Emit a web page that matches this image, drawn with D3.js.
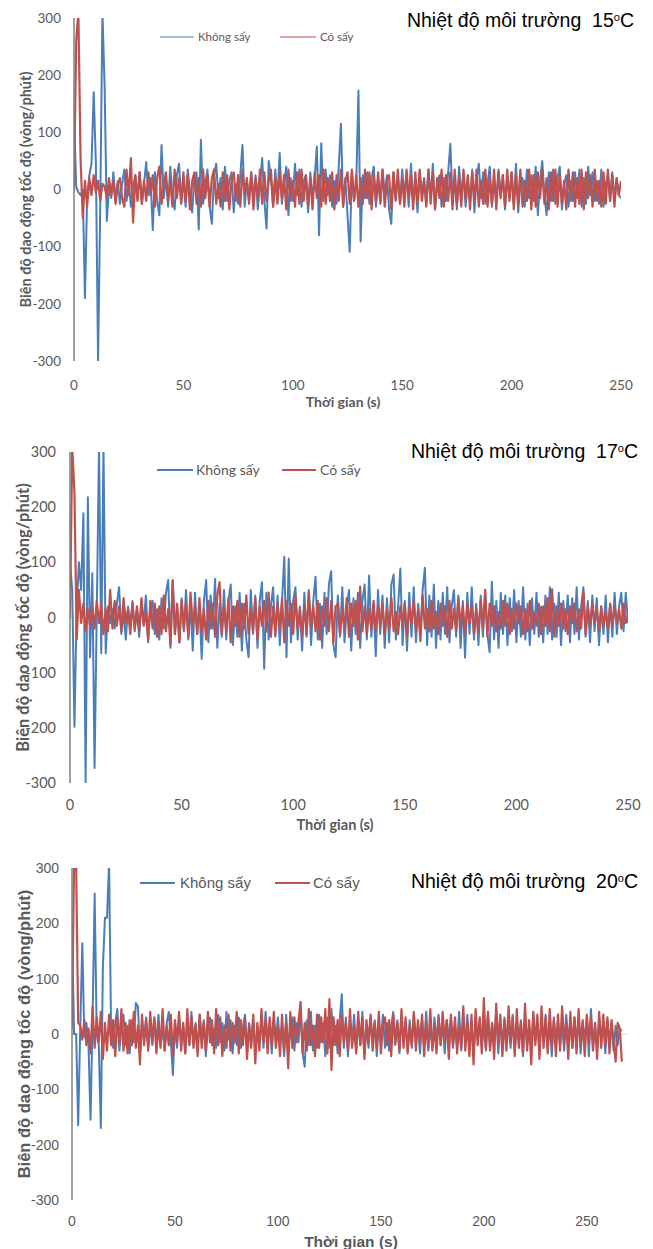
<!DOCTYPE html>
<html>
<head>
<meta charset="utf-8">
<script src="https://cdn.jsdelivr.net/npm/d3@7"></script>
<style>
  body { margin: 0; background: #fff; }
  svg text { fill: #595959; }
</style>
</head>
<body>
<div id="chart"></div>
<script>
/* DATA (one value per second) */
const titles = ["15", "17", "20"];
const seriesNames = ["Không sấy", "Có sấy"];
const yTicks = [-300, -200, -100, 0, 100, 200, 300];
const xTicks = [0, 50, 100, 150, 200, 250];

// 15 oC
const khong15 = [
  130, 5, -5, -10, 0, -190, -15, 25, 45, 170,
  45, -300, -25, 310, 180, -55, 5, -15, 30, -20,
  15, -25, 10, 35, -20, 15, -30, 5, 25, -15,
  30, -25, 10, 48, -10, 20, -71, 30, -20, -45,
  78, -15, 20, -30, 40, -10, -35, 25, 45, -20,
  15, -30, 35, -5, -40, 20, 30, -70, 87, -25,
  10, 35, -30, -60, 25, 45, -15, 20, -35, 40,
  -20, 15, 30, -40, 10, -25, 25, 78, -30, 15,
  -20, 30, -15, 25, -35, 10, 55, -20, -68, 50,
  20, -30, 35, -15, 64, -25, 10, 40, -45, 20,
  -20, 45, -10, 35, -30, 15, 25, -40, 30, -15,
  20, 75, -80, 81, -20, 35, -10, 25, -30, 15,
  -25, 40, 115, -30, 20, -45, -109, 30, -20, 10,
  173, -91, 25, -15, 30, -25, 20, 40, -30, 15,
  -20, 35, -10, 25, -35, -60, 30, -15, 20, -25,
  35, -10, 25, -30, 45, -20, 15, -40, 30, -10,
  20, -25, 35, -15, 45, -35, 10, 25, -30, 20,
  -20, 30, 80, -15, 10, -35, 40, -10, 25, -30,
  15, -20, 35, -40, 20, 45, -15, 30, -25, 10,
  40, -30, 15, -20, 35, -10, 25, -35, 20, -15,
  30, -25, 45, -40, 10, 20, -30, 35, -15, 25,
  -20, 40, -45, 15, 50, -10, -45, 30, -20, 35,
  -25, 20, 40, -35, 10, 25, -30, 15, -20, 30,
  -15, 35, -30, 20, -25, 40, -10, 30, -20, 15,
  -25, 35, -30, 10, 25, -20, 30, -15, 20, -10,
  -15
];
const co15 = [
  0, 260, 310, 55, -50, 15, -30, 20, -10, 25,
  -5, 15, -20, 10, 5, -15, 20, -10, 15, -25,
  10, 20, -15, -30, 35, -10, 55, -58, 25, -20,
  30, -25, 15, -20, 30, -10, 25, -30, 20, 40,
  -25, 10, 30, -20, 15, -30, 35, -15, 20, -25,
  30, -20, 25, -35, 15, 30, -25, 20, -30, 35,
  -15, 25, -30, 20, 35, -25, 10, -30, 30, -20,
  25, -35, 15, 30, -20, 25, -30, 35, -10, 20,
  -25, 30, -35, 20, -15, 35, -25, 30, -20, 15,
  35, -30, 20, -25, 30, -15, 25, -35, 35, -20,
  15, -30, 30, -25, 35, -20, 25, -30, 20, -35,
  30, -15, 25, -30, 35, -25, 20, -20, 30, -35,
  25, -20, 35, -30, 15, 30, -25, 35, -20, 25,
  -30, 20, -25, 35, -15, 30, -35, 25, -20, 30,
  -25, 35, -30, 15, 25, -35, 30, -20, 35, -25,
  20, -30, 35, -15, 25, -35, 30, -25, 35, -20,
  15, -30, 35, -25, 30, -35, 20, -15, 35, -30,
  25, -20, 30, -35, 35, -25, 20, -30, 35, -15,
  25, -35, 30, -20, 35, -30, 15, -25, 35, -30,
  20, -25, 35, -35, 30, -15, 25, -30, 35, -20,
  30, -35, 25, -25, 35, -30, 15, -20, 35, -35,
  25, -30, 30, -15, 35, -25, 20, -35, 30, -20,
  35, -30, 25, -25, 15, -35, 35, -20, 30, -30,
  20, -25, 35, -35, 30, -15, 25, -30, 35, -20,
  15, -30, 30, -25, 35, -20, 25, -30, 20, -10,
  15
];

// 17 oC
const khong17 = [
  100, 50, -198, 20, 100, 50, 189, -300, 218, -72,
  80, -273, 10, 310, -65, 310, -65, 20, -10, 15,
  -20, 25, 55, -30, 10, -40, 20, -15, 30, -25,
  15, -35, 25, -10, 40, -45, 20, 30, -30, 15,
  -40, 35, -20, 45, 68, -55, 66, -30, 20, -45,
  35, -25, 50, -40, 25, -60, 45, -30, 20, -75,
  30, 68, -45, 40, -20, 70, -55, 25, -35, 50,
  -40, 30, 60, -50, 20, -35, 45, -60, 25, -40,
  -72, 50, -30, 40, -55, 30, 64, -93, 45, -40,
  20, 55, -35, 40, -50, 30, 110, -72, 107, -45,
  30, 55, -40, 20, -60, 45, -35, 50, -50, 30,
  74, -40, 25, -55, 45, -30, 60, 84, -50, -72,
  40, -35, 55, -45, 20, 50, -60, 35, -30, 45,
  -55, 30, 60, -40, 76, -35, 25, -70, 50, -30,
  40, -55, 35, -45, 60, 78, -40, 20, 89, -50,
  30, -60, 45, -35, 55, -45, 25, -30, 50, 90,
  -50, 40, -35, 60, -55, 30, -40, 45, -30, 55,
  -45, 20, 50, -35, 40, -55, 30, -73, 45, -30,
  55, -40, 25, -50, 40, -35, 45, -30, -63, 65,
  -40, 30, -55, 45, -30, 40, -50, 35, -25, 50,
  -45, 30, -35, 55, -40, 25, -50, 35, -30, 45,
  -35, 20, -45, 40, -30, 55, -40, 25, -35, 45,
  -50, 30, -25, 40, -45, 35, -30, 55, -40, 20,
  55, -35, 30, -45, 40, -25, 35, -50, 20, -30,
  40, -45, 25, -35, 45, -30, 20, 45, -25, 45,
  -10
];
const co17 = [
  0, 310, 225, -40, 50, -10, 25, -25, 15, -15,
  20, -20, 30, -10, 25, -30, 15, -25, 50, -20,
  30, -15, 20, -25, 35, -10, 15, -30, 25, -20,
  20, -25, 35, -15, 10, -40, 30, -20, 25, -35,
  20, -30, 40, -25, 15, -50, 68, -30, 25, -45,
  30, -20, 25, -35, 45, -15, 20, -30, 35, -25,
  15, -40, 30, -20, 25, -35, 40, 64, -30, 20,
  -25, 35, -45, 20, -15, 30, -35, 25, -20, 40,
  -30, 15, -25, 35, -40, 20, -15, 30, -25, 45,
  -35, 20, -30, 25, -20, 35, -45, 30, -15, 25,
  -30, 40, -20, 15, -35, 25, -30, 45, -15, 20,
  -25, 30, -40, 20, -15, 35, -25, 30, -45, 20,
  25, -30, 15, -20, 35, -35, 25, -15, 30, -40,
  56, -25, 20, -30, 15, -20, 30, -25, 20, -15,
  25, -30, 15, -20, 35, -25, 10, -30, 20, -15,
  25, -35, 20, -10, 30, -25, 15, -43, 40, -20,
  15, -25, 30, -20, 10, -30, 25, -15, 20, -35,
  30, -20, 15, -25, 35, -15, 20, -30, 25, -10,
  20, -30, 15, -25, 30, -20, 50, -35, 25, -15,
  20, -25, 10, -20, 30, -15, 25, -30, 15, -20,
  25, -10, 20, -30, 15, -25, 30, -20, 10, -15,
  25, -30, 20, -15, 35, -25, 51, -35, 20, -15,
  25, -20, 15, -30, 20, -10, 25, -25, 15, -20,
  47, -30, 20, -15, 25, -10, 15, -25, 20, -15,
  10, -20, 25, -15, 20, -10, 15, -20, 25, -10,
  5
];

// 20 oC
const khong20 = [
  194, 0, 0, -165, 10, 164, -5, 20, -20, -155,
  30, 254, 0, -20, -170, 122, 210, 210, 310, 0,
  -25, 20, 45, -30, 10, 35, -20, 15, -35, 25,
  -15, 56, 50, -30, 20, -10, 30, -25, 15, -20,
  25, -15, 35, -20, 10, -30, 20, 40, -15, -74,
  20, -25, 30, -10, 15, -35, 25, -20, 40, -15,
  20, -30, 35, -10, 25, -40, 15, 30, -20, 10,
  -25, 35, -15, 20, -30, 40, -10, 25, -35, 15,
  -20, 30, -25, 10, 35, -30, 20, -15, 25, -35,
  15, -20, 30, -25, 40, -10, 20, -35, 25, -15,
  30, -20, 15, -40, 35, -25, 10, 30, -30, 20,
  -15, 45, -35, -59, 25, -20, 40, -30, 15, -25,
  35, -15, 20, -40, 30, -25, 45, -20, 15, -35,
  25, 72, -25, 30, -40, 20, -15, 35, -30, 25,
  -20, 40, -35, 15, -25, 30, -15, 25, -40, 20,
  -10, 35, -25, 20, -30, 15, 40, -20, 25, -35,
  30, -15, 20, -30, 25, -25, 35, -10, 15, -35,
  25, -20, 40, -30, 15, -25, 30, -15, 35, -20,
  20, -35, 25, -10, 30, -25, 15, -20, 40, -30,
  25, -15, 35, -25, 20, -40, 30, -10, 25, -20,
  15, -30, 35, -25, 20, -15, 40, -35, 25, -20,
  30, -10, 15, -25, 35, -30, 20, -15, 25, -40,
  30, -20, 15, -25, 35, -10, 20, -30, 25, -15,
  35, -25, 20, -40, 30, -15, 25, -20, 15, -30,
  35, -10, 20, -25, 30, -15, 25, -35, 20, -10,
  30, -40, 45, -20, 15, -25, 30, -10, 20, -35,
  25, -15, 20, -30, 15, -20, 10, 5
];
const co20 = [
  10, 310, 310, 20, 15, -10, 25, -20, 10, -35,
  49, -25, 30, -15, 40, -45, 20, -30, 35, -20,
  25, -40, 30, -15, 45, -30, 20, -35, 25, -20,
  40, -25, 15, -55, 35, -20, 25, -30, 40, -15,
  30, -35, 20, -25, 45, -30, 15, -20, 35, -40,
  25, -15, 40, -30, 20, -35, 45, -20, 30, -25,
  15, -40, 35, -25, 20, -30, 40, -15, 25, -35,
  45, -20, 30, -40, 15, -25, 35, -30, 20, -15,
  40, -35, 25, -20, 30, -45, 15, -25, 35, -53,
  20, -30, 45, -15, 25, -35, 30, -20, 40, -25,
  15, -40, 35, -30, 20, -62, 40, -25, 30, -15,
  25, 58, -35, 20, -30, 45, -20, 15, -40, 35,
  -25, 30, -15, 45, -35, 63, -65, 30, -20, 25,
  -40, 35, -15, 20, -30, 45, -25, 15, -35, 40,
  -20, 30, -45, 25, -15, 35, -30, 20, -25, 40,
  -35, 15, 30, -20, 25, -40, 35, -15, 20, -30,
  45, -25, 30, -35, 15, -20, 40, -30, 25, -15,
  35, -40, 20, -25, 45, -30, 15, -35, 30, -20,
  40, -15, 25, -45, 35, -20, 30, -35, 15, -25,
  50, -30, 20, -40, 35, -55, 45, -20, 30, -35,
  65, -25, 40, -30, 20, -45, 55, -20, 35, -40,
  25, -30, 50, -15, 30, -40, 45, -25, 20, -35,
  55, -30, 25, -55, 40, -20, 35, -45, 50, -25,
  30, -35, 45, -20, 25, -40, 35, -30, 50, -15,
  20, -45, 40, -25, 30, -35, 45, -20, 25, -40,
  35, -15, 30, -30, 20, -45, 40, -25, 35, -20,
  30, -35, 25, -15, -50, 20, 10, -50
];

/* LAYOUT */
const width = 653, height = 1249;
const blue = "#4a7ebb", red = "#c0504d";

const panels = [
  { series: [khong15, co15], xMax: 250, x0: 74, x1: 621, yTop: 18, yBot: 361,
    font: "Lato, 'Open Sans', sans-serif", tickSize: 13.5, titleSize: 14.5, xTitleSize: 14, legSize: 11.5, legW: 1.2,
    yLabX: 61, xLabY: 385, xTitleY: 407, xTitleX: 343, yTitleX: 26,
    legY: 37, leg: [[160, 194, 198], [280, 316, 320]], headX: 634, headY: 27 },
  { series: [khong17, co17], xMax: 250, x0: 70, x1: 628, yTop: 452, yBot: 783,
    font: "Lato, 'Open Sans', sans-serif", tickSize: 14.5, titleSize: 16.5, xTitleSize: 14.5, legSize: 14, legW: 2,
    yLabX: 56, xLabY: 805, xTitleY: 830, xTitleX: 335, yTitleX: 23,
    legY: 470, leg: [[157, 193, 196], [282, 316, 320]], headX: 638, headY: 458 },
  { series: [khong20, co20], xMax: 270, x0: 72, x1: 628, yTop: 868, yBot: 1200,
    font: "'Liberation Sans', Arial, sans-serif", tickSize: 14, titleSize: 16.5, xTitleSize: 15.5, legSize: 15, legW: 2,
    yLabX: 59, xLabY: 1221, xTitleY: 1247, xTitleX: 351, yTitleX: 24,
    legY: 883, leg: [[140, 175, 180], [275, 310, 313]], headX: 638, headY: 888 }
];

const svg = d3.select("#chart").append("svg")
  .attr("width", width)
  .attr("height", height);

panels.forEach((p, i) => {
  const g = svg.append("g");

  const xScale = d3.scaleLinear().domain([0, p.xMax]).range([p.x0, p.x1]);
  const yScale = d3.scaleLinear().domain([-300, 300]).range([p.yBot, p.yTop]);

  // clip to plot area
  g.append("clipPath").attr("id", "clip" + i)
    .append("rect")
    .attr("x", p.x0).attr("y", p.yTop)
    .attr("width", p.x1 - p.x0).attr("height", p.yBot - p.yTop);

  // zero line
  g.append("line")
    .attr("x1", p.x0).attr("x2", p.x1)
    .attr("y1", yScale(0)).attr("y2", yScale(0))
    .attr("stroke", "#d9d9d9").attr("stroke-width", 1);

  // lines
  const line = d3.line()
    .x((d, j) => xScale(j))
    .y(d => yScale(d));

  p.series.forEach((s, k) => {
    g.append("path")
      .datum(s)
      .attr("clip-path", `url(#clip${i})`)
      .attr("fill", "none")
      .attr("stroke", k === 0 ? blue : red)
      .attr("stroke-width", k === 0 ? 2 : 2.2)
      .attr("stroke-linejoin", "round")
      .attr("d", line);
  });

  // y axis line
  g.append("line")
    .attr("x1", p.x0).attr("x2", p.x0)
    .attr("y1", p.yTop).attr("y2", p.yBot)
    .attr("stroke", "#7f7f7f").attr("stroke-width", 1.5);

  // tick labels
  g.selectAll(".ylab")
    .data(yTicks)
    .join("text")
    .attr("x", p.yLabX)
    .attr("y", d => yScale(d))
    .attr("dy", "0.35em")
    .attr("text-anchor", "end")
    .style("font-family", p.font)
    .style("font-size", p.tickSize + "px")
    .text(d => d);

  g.selectAll(".xlab")
    .data(xTicks)
    .join("text")
    .attr("x", d => xScale(d))
    .attr("y", p.xLabY)
    .attr("dy", "0.35em")
    .attr("text-anchor", "middle")
    .style("font-family", p.font)
    .style("font-size", p.tickSize + "px")
    .text(d => d);

  // axis titles
  g.append("text")
    .attr("x", p.xTitleX)
    .attr("y", p.xTitleY)
    .attr("text-anchor", "middle")
    .style("font-family", p.font)
    .style("font-size", p.xTitleSize + "px")
    .style("font-weight", "bold")
    .text("Thời gian (s)");

  g.append("text")
    .attr("transform", `translate(${p.yTitleX}, ${(p.yTop + p.yBot) / 2}) rotate(-90)`)
    .attr("dy", "0.35em")
    .attr("text-anchor", "middle")
    .style("font-family", p.font)
    .style("font-size", p.titleSize + "px")
    .style("font-weight", "bold")
    .text("Biên độ dao động tốc độ (vòng/phút)");

  // legend
  p.leg.forEach((l, k) => {
    g.append("line")
      .attr("x1", l[0]).attr("x2", l[1])
      .attr("y1", p.legY).attr("y2", p.legY)
      .attr("stroke", k === 0 ? blue : red)
      .attr("stroke-width", p.legW);
    g.append("text")
      .attr("x", l[2]).attr("y", p.legY)
      .attr("dy", "0.35em")
      .style("font-family", p.font)
      .style("font-size", p.legSize + "px")
      .text(seriesNames[k]);
  });

  // header
  const head = g.append("text")
    .attr("x", p.headX).attr("y", p.headY)
    .attr("text-anchor", "end")
    .style("font-family", "'Liberation Sans', Arial, sans-serif")
    .style("font-size", "19.5px")
    .style("fill", "#000");
  head.append("tspan").text("Nhiệt độ môi trường\u00a0\u00a0" + titles[i]);
  head.append("tspan").attr("dy", -6).style("font-size", "11px").text("o");
  head.append("tspan").attr("dy", 6).text("C");
});
</script>
</body>
</html>
